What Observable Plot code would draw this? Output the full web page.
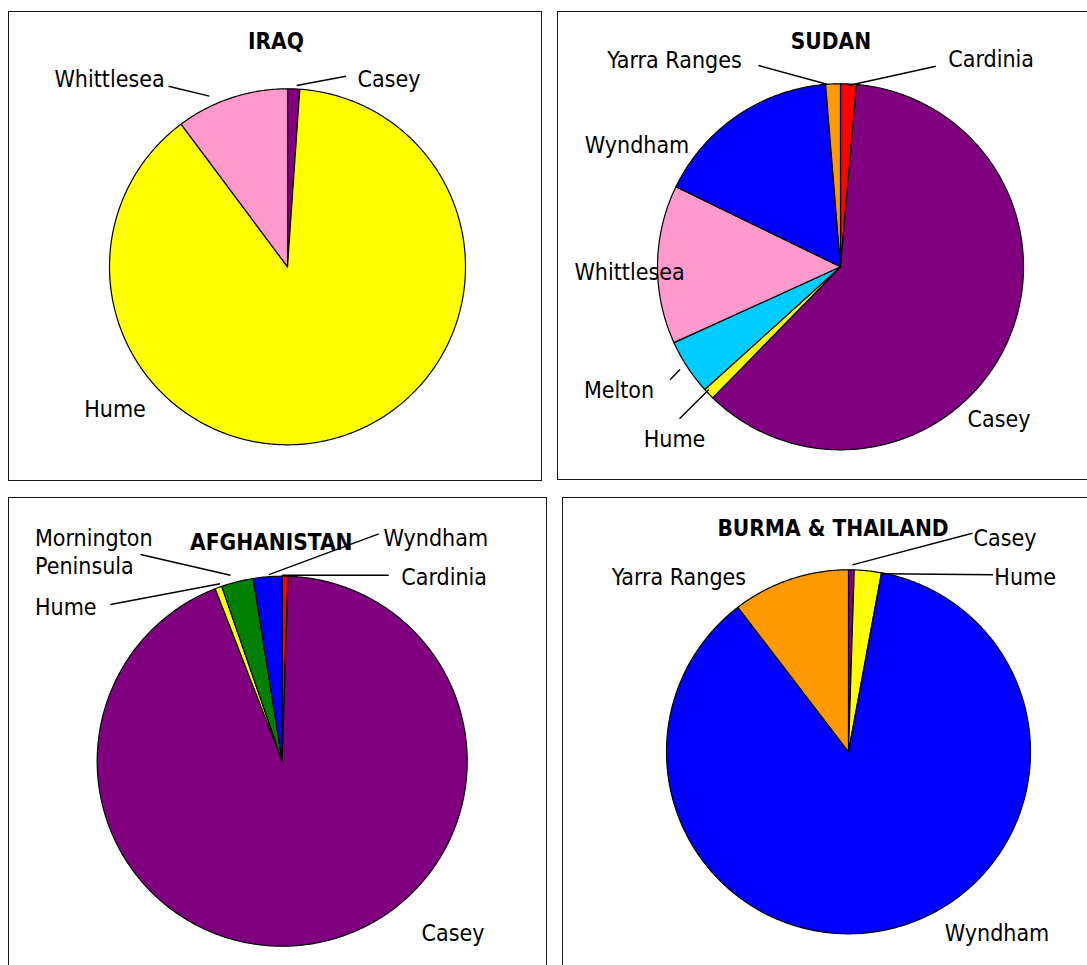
<!DOCTYPE html>
<html>
<head>
<meta charset="utf-8">
<script src="https://cdn.jsdelivr.net/npm/d3@7"></script>
<script src="https://cdn.jsdelivr.net/npm/@observablehq/plot@0.6"></script>
<style>
  html, body { margin: 0; padding: 0; background: #fff; }
  #page { position: relative; width: 1087px; height: 965px; overflow: hidden; background: #fff; }
  .frame { position: absolute; box-sizing: border-box; border: 1.5px solid #151515; }
</style>
</head>
<body>
<div id="page"></div>
<script>
// Councils and the colour each one keeps in every pie
const councils = ["Cardinia", "Casey", "Hume", "Melton", "Mornington Peninsula", "Whittlesea", "Wyndham", "Yarra Ranges"];
const councilColors = ["#ff0000", "#800080", "#ffff00", "#00ccff", "#008000", "#ff99cc", "#0000ff", "#ff9900"];

// Share (%) of each birthplace group settling in each council
const iraqCouncils = ["Casey", "Hume", "Whittlesea"];
const iraqShares = [1.1, 88.7, 10.2];

const sudanCouncils = ["Cardinia", "Casey", "Hume", "Melton", "Whittlesea", "Wyndham", "Yarra Ranges"];
const sudanShares = [1.4, 60.9, 1.0, 4.9, 14.0, 16.5, 1.3];

const afghanCouncils = ["Cardinia", "Casey", "Hume", "Mornington Peninsula", "Wyndham"];
const afghanShares = [0.5, 93.6, 0.6, 2.8, 2.5];

const burmaCouncils = ["Casey", "Hume", "Wyndham", "Yarra Ranges"];
const burmaShares = [0.5, 2.4, 86.7, 10.4];

const FONT = "'DejaVu Sans Condensed', 'DejaVu Sans', sans-serif";

// Page layout of the four panels (page pixels): frame box, pie centre, radius,
// title baseline and label placement. Leaders start on their slice at fraction t
// of its sweep, gap pixels outside the rim.
const panels = [
  {
    title: "IRAQ", names: iraqCouncils, shares: iraqShares,
    box: [9, 12, 541, 480], center: [287, 266.3], r: 178, titleAt: [275.5, 48],
    labels: [
      {name: "Casey", at: [388.5, 86], anchor: "middle", leader: {t: 0.73, gap: 3.5, to: [345.5, 75.7]}},
      {name: "Whittlesea", at: [109, 86], anchor: "middle", leader: {t: 0.33, gap: 9.7, to: [168, 85.7]}},
      {name: "Hume", at: [114.5, 416.7], anchor: "middle"}
    ]
  },
  {
    title: "SUDAN", names: sudanCouncils, shares: sudanShares,
    box: [558, 12, 1110, 479], center: [840, 266.3], r: 183, titleAt: [830.5, 48],
    labels: [
      {name: "Yarra Ranges", at: [674, 67], anchor: "middle", leader: {t: 0.1, gap: 0, to: [758, 65]}},
      {name: "Cardinia", at: [990.7, 66.7], anchor: "middle", leader: {t: 0.5, gap: -1.5, to: [935.4, 65.7]}},
      {name: "Wyndham", at: [636.5, 152.7], anchor: "middle"},
      {name: "Whittlesea", at: [629, 279.3], anchor: "middle"},
      {name: "Melton", at: [618.5, 397.7], anchor: "middle", leader: {t: 0.54, gap: 7.5, to: [669.6, 379.3]}},
      {name: "Hume", at: [674, 446.7], anchor: "middle", leader: {t: 0.75, gap: -3, to: [679, 418.3]}},
      {name: "Casey", at: [998.5, 426.7], anchor: "middle"}
    ]
  },
  {
    title: "AFGHANISTAN", names: afghanCouncils, shares: afghanShares,
    box: [9, 498, 546, 990], center: [281.7, 760.7], r: 185, titleAt: [270.8, 549.3],
    labels: [
      {name: "Mornington Peninsula", text: "Mornington\nPeninsula", at: [34.5, 573.3], anchor: "start", leader: {t: 0.35, gap: 8, to: [140, 554]}},
      {name: "Hume", at: [34.5, 614], anchor: "start", leader: {t: 0.9, gap: 3, to: [110, 604]}},
      {name: "Wyndham", at: [435.3, 545], anchor: "middle", leader: {t: 0.55, gap: 2, to: [378.3, 533.3]}},
      {name: "Cardinia", at: [443.6, 584], anchor: "middle", leader: {t: 0, gap: 1, to: [388.3, 574.7]}},
      {name: "Casey", at: [452.5, 940.7], anchor: "middle"}
    ]
  },
  {
    title: "BURMA & THAILAND", names: burmaCouncils, shares: burmaShares,
    box: [563, 498, 1110, 990], center: [848, 751.3], r: 182, titleAt: [832.5, 535],
    labels: [
      {name: "Casey", at: [1004.5, 545], anchor: "middle", leader: {t: 0.65, gap: 5, to: [971.9, 532.7]}},
      {name: "Hume", at: [1024.6, 584.3], anchor: "middle", leader: {t: 1, gap: -1, to: [992.5, 574.3]}},
      {name: "Yarra Ranges", at: [678.4, 584.3], anchor: "middle"},
      {name: "Wyndham", at: [996.5, 940.7], anchor: "middle"}
    ]
  }
];

// Slice start/end angles (radians, clockwise from 12 o'clock) in data order
function sliceAngles(names, shares) {
  const total = d3.sum(shares);
  let acc = 0;
  return names.map((name, i) => {
    const a0 = acc / total * 2 * Math.PI;
    acc += shares[i];
    return {name, a0, a1: acc / total * 2 * Math.PI};
  });
}

// Each slice as a closed polygon: centre, then points along its arc
function slicePolygons(angles, r) {
  const rows = [];
  for (const {name, a0, a1} of angles) {
    const n = Math.max(2, Math.ceil((a1 - a0) / (Math.PI / 360)));
    rows.push({name, x: 0, y: 0});
    for (let k = 0; k <= n; k++) {
      const a = a0 + (a1 - a0) * k / n;
      rows.push({name, x: r * Math.sin(a), y: -r * Math.cos(a)});
    }
  }
  return rows;
}

const page = document.getElementById("page");

for (const p of panels) {
  const [L, T, R, B] = p.box;
  const W = R - L, H = B - T;
  const cx = p.center[0], cy = p.center[1];

  const frame = document.createElement("div");
  frame.className = "frame";
  Object.assign(frame.style, {left: (L - 0.75) + "px", top: (T - 0.75) + "px", width: (W + 1.5) + "px", height: (H + 1.5) + "px"});
  page.appendChild(frame);

  const angles = sliceAngles(p.names, p.shares);
  const byName = new Map(angles.map((d) => [d.name, d]));
  const polys = slicePolygons(angles, p.r);

  const labels = p.labels.map((l) => ({
    text: l.text ?? l.name, x: l.at[0] - cx, y: l.at[1] - cy, anchor: l.anchor
  }));

  const leaders = p.labels.filter((l) => l.leader).map((l) => {
    const s = byName.get(l.name);
    const a = s.a0 + (s.a1 - s.a0) * l.leader.t;
    const rr = p.r + l.leader.gap;
    return {x1: rr * Math.sin(a), y1: -rr * Math.cos(a), x2: l.leader.to[0] - cx, y2: l.leader.to[1] - cy};
  });

  const chart = Plot.plot({
    width: W,
    height: H,
    margin: 0,
    x: {domain: [L - cx, R - cx], range: [0, W], axis: null},
    y: {domain: [T - cy, B - cy], range: [0, H], axis: null},
    color: {domain: councils, range: councilColors},
    style: {position: "absolute", left: L + "px", top: T + "px", overflow: "visible", background: "transparent", maxWidth: "none"},
    marks: [
      Plot.line(polys, {x: "x", y: "y", z: "name", fill: "name", stroke: "black", strokeWidth: 1.2, strokeLinejoin: "round", curve: "linear-closed"}),
      Plot.link(leaders, {x1: "x1", y1: "y1", x2: "x2", y2: "y2", stroke: "black", strokeWidth: 1.4}),
      Plot.text(labels.filter((d) => d.anchor === "middle"), {x: "x", y: "y", text: "text", textAnchor: "middle", lineAnchor: "bottom", fontSize: 23, fontFamily: FONT, fill: "black"}),
      Plot.text(labels.filter((d) => d.anchor === "start"), {x: "x", y: "y", text: "text", textAnchor: "start", lineAnchor: "bottom", lineHeight: 1.23, fontSize: 23, fontFamily: FONT, fill: "black"}),
      Plot.text([p.title], {x: () => p.titleAt[0] - cx, y: () => p.titleAt[1] - cy, text: (d) => d, textAnchor: "middle", lineAnchor: "bottom", fontSize: 22.5, fontWeight: "bold", fontFamily: FONT, fill: "black"})
    ]
  });
  page.appendChild(chart);
}
</script>
</body>
</html>
